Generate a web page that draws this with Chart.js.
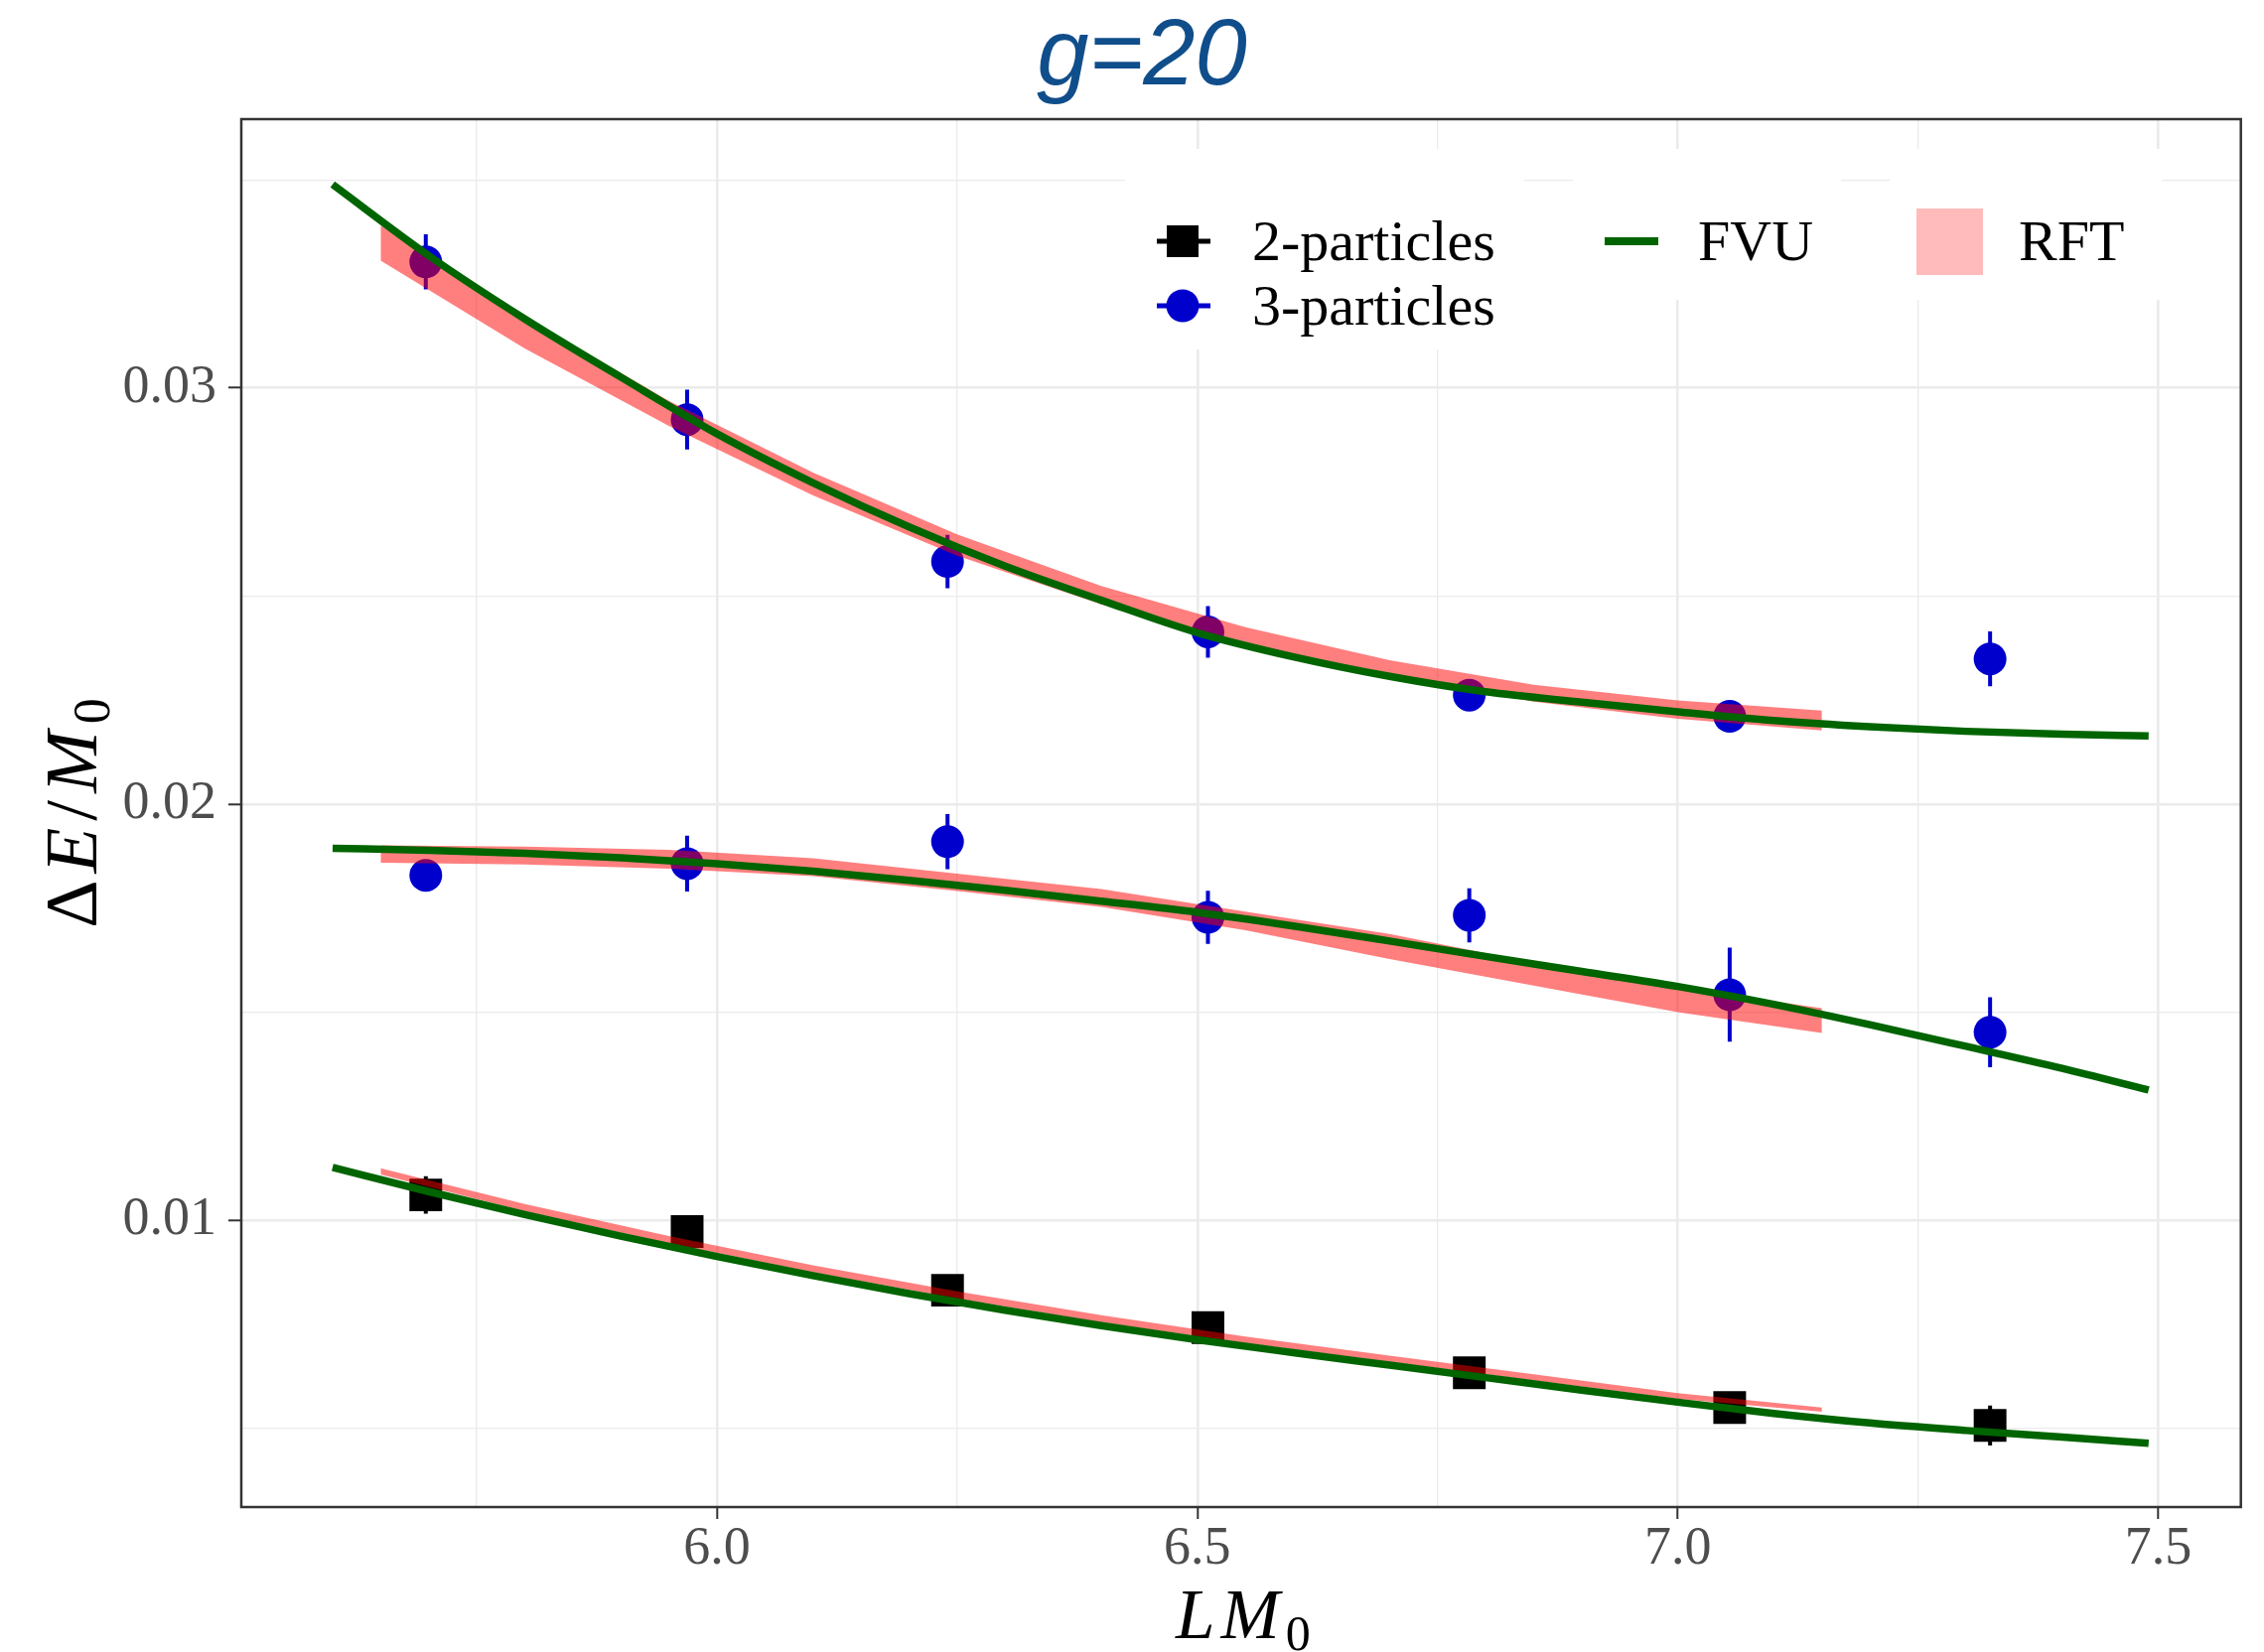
<!DOCTYPE html>
<html>
<head>
<meta charset="utf-8">
<title>g=20</title>
<script src="https://cdn.jsdelivr.net/npm/chart.js@4.4.1/dist/chart.umd.min.js"></script>
<style>
  html, body { margin: 0; padding: 0; background: #fff; }
  #wrap { width: 2280px; height: 1664px; }
</style>
</head>
<body>
<div id="wrap"><canvas id="chart" width="2280" height="1664"></canvas></div>
<script>
// L*M0 for the seven box sizes
const lm = [5.697, 5.969, 6.240, 6.511, 6.783, 7.054, 7.325];

// lattice energies with errors
const twoE = [0.01061, 0.00973, 0.00832, 0.00742, 0.006335, 0.00550, 0.00507];
const twoErr = [0.00045, 0.0003, 0.0003, 0.0003, 0.0003, 0.0003, 0.00048];
const threeUpE = [0.03303, 0.02924, 0.02583, 0.02414, 0.02262, 0.02211, 0.02349];
const threeUpErr = [0.00066, 0.00072, 0.00064, 0.00062, 0.0002, 0.0002, 0.00066];
const threeMidE = [0.01829, 0.01857, 0.01910, 0.01728, 0.01733, 0.01542, 0.01452];
const threeMidErr = [0.0002, 0.00067, 0.00066, 0.00064, 0.00065, 0.00113, 0.00084];

// FVU curves
const fvuX = [5.60, 5.70, 5.80, 5.90, 6.00, 6.10, 6.20, 6.30, 6.40, 6.50,
              6.60, 6.70, 6.80, 6.90, 7.00, 7.10, 7.20, 7.30, 7.40, 7.49];
const fvuUpper = [0.03489, 0.03318, 0.03166, 0.03026, 0.02890, 0.02772, 0.02666, 0.02572, 0.02490, 0.02412,
                  0.02354, 0.02307, 0.02270, 0.02245, 0.02222, 0.02201, 0.02186, 0.02175, 0.02168, 0.02164];
const fvuMiddle = [0.01894, 0.01889, 0.01882, 0.01871, 0.01857, 0.01839, 0.01817, 0.01793, 0.01767, 0.01740,
                   0.01707, 0.01671, 0.01634, 0.01598, 0.01562, 0.01519, 0.01470, 0.01418, 0.01365, 0.01313];
const fvuLower = [0.01127, 0.01069, 0.01014, 0.00962, 0.00913, 0.00867, 0.00824, 0.00784, 0.00747, 0.00713,
                  0.00682, 0.00652, 0.00622, 0.00592, 0.00563, 0.00536, 0.00513, 0.00495, 0.00479, 0.00464];

// RFT bands (lower / upper edge)
const rftX = [5.65, 5.80, 5.95, 6.10, 6.25, 6.40, 6.55, 6.70, 6.85, 7.00, 7.15];
const rftUpperLo = [0.03306, 0.03095, 0.02909, 0.02742, 0.02597, 0.02480, 0.02385, 0.02310, 0.02246, 0.02205, 0.02177];
const rftUpperHi = [0.03391, 0.03170, 0.02969, 0.02797, 0.02648, 0.02524, 0.02425, 0.02346, 0.02287, 0.02249, 0.02225];
const rftMiddleLo = [0.01859, 0.01855, 0.01845, 0.01827, 0.01791, 0.01753, 0.01697, 0.01628, 0.01564, 0.01500, 0.01450];
const rftMiddleHi = [0.01901, 0.01898, 0.01890, 0.01870, 0.01833, 0.01796, 0.01742, 0.01688, 0.01619, 0.01560, 0.01510];
const rftLowerLo = [0.01110, 0.01022, 0.00945, 0.00875, 0.00812, 0.00755, 0.00705, 0.00660, 0.00615, 0.00571, 0.00540];
const rftLowerHi = [0.01125, 0.01039, 0.00962, 0.00892, 0.00829, 0.00772, 0.00721, 0.00675, 0.00630, 0.00585, 0.00550];

// axes
const xTicks = [5.75, 6.0, 6.25, 6.5, 6.75, 7.0, 7.25, 7.5];
const yTicks = [0.005, 0.01, 0.015, 0.02, 0.025, 0.03, 0.035];
const xLabels = ['6.0', '6.5', '7.0', '7.5'];
const yLabels = ['0.01', '0.02', '0.03'];

const SERIF = "'Liberation Serif', 'DejaVu Serif', serif";
const GREEN = '#006400';
const BLUE = '#0000CD';
const BAND = 'rgba(255, 0, 0, 0.5)';

function pts(xs, ys) {
  return xs.map((x, i) => ({ x: x, y: ys[i] }));
}

function xMajor(v) { return xLabels.includes(v.toFixed(1)) && Math.abs(v * 2 - Math.round(v * 2)) < 1e-6; }
function yMajor(v) { return yLabels.includes(v.toFixed(2)) && Math.abs(v * 100 - Math.round(v * 100)) < 1e-6; }

function fvuSet(ys) {
  return {
    type: 'line', label: 'FVU', data: pts(fvuX, ys), order: 0,
    borderColor: GREEN, borderWidth: 7.5, pointRadius: 0, fill: false,
    cubicInterpolationMode: 'monotone'
  };
}

function bandSets(lo, hi) {
  return [
    { type: 'line', label: 'RFT', data: pts(rftX, lo), order: 1, borderWidth: 0,
      borderColor: 'rgba(0,0,0,0)', pointRadius: 0, fill: false, tension: 0 },
    { type: 'line', label: 'RFT', data: pts(rftX, hi), order: 1, borderWidth: 0,
      borderColor: 'rgba(0,0,0,0)', backgroundColor: BAND, pointRadius: 0, fill: '-1', tension: 0 }
  ];
}

const pointSeries = [
  { xs: lm, ys: twoE, err: twoErr, color: '#000000' },
  { xs: lm, ys: threeUpE, err: threeUpErr, color: BLUE },
  { xs: lm, ys: threeMidE, err: threeMidErr, color: BLUE }
];

// vertical error bars, under the markers and bands
const errorBars = {
  id: 'errorBars',
  beforeDatasetsDraw(chart) {
    const { ctx, chartArea, scales } = chart;
    ctx.save();
    ctx.beginPath();
    ctx.rect(chartArea.left, chartArea.top, chartArea.width, chartArea.height);
    ctx.clip();
    ctx.lineWidth = 4;
    pointSeries.forEach(s => {
      ctx.strokeStyle = s.color;
      s.xs.forEach((x, i) => {
        const px = scales.x.getPixelForValue(x);
        ctx.beginPath();
        ctx.moveTo(px, scales.y.getPixelForValue(s.ys[i] - s.err[i]));
        ctx.lineTo(px, scales.y.getPixelForValue(s.ys[i] + s.err[i]));
        ctx.stroke();
      });
    });
    ctx.restore();
  }
};

// draws [text, font, dy] pieces one after another with a gap, centred on 0
function drawPieces(ctx, parts, gap) {
  let total = 0;
  parts.forEach(p => { ctx.font = p[1]; total += ctx.measureText(p[0]).width; });
  total += gap * (parts.length - 1);
  let px = -total / 2;
  parts.forEach(p => {
    ctx.font = p[1];
    ctx.fillText(p[0], px, p[2]);
    px += ctx.measureText(p[0]).width + gap;
  });
}

// panel border, legend, title and axis titles
const decorations = {
  id: 'decorations',
  afterDraw(chart) {
    const { ctx, chartArea } = chart;
    ctx.save();

    // legend boxes
    ctx.fillStyle = '#ffffff';
    ctx.fillRect(1133, 150, 402, 202);
    ctx.fillRect(1584, 150, 270, 152);
    ctx.fillRect(1903, 150, 274, 152);

    // 2-particles key
    ctx.fillStyle = '#000';
    ctx.fillRect(1165, 240.5, 54, 5);
    ctx.fillRect(1175, 227, 32, 32);
    // 3-particles key
    ctx.fillStyle = BLUE;
    ctx.fillRect(1165, 305.5, 54, 5);
    ctx.beginPath();
    ctx.arc(1191, 308, 16.5, 0, Math.PI * 2);
    ctx.fill();
    // FVU key
    ctx.fillStyle = GREEN;
    ctx.fillRect(1616, 239, 54, 8);
    // RFT key
    ctx.fillStyle = '#FFBBBB';
    ctx.fillRect(1930, 210, 67, 67);

    ctx.fillStyle = '#000';
    ctx.font = '58px ' + SERIF;
    ctx.textAlign = 'left';
    ctx.textBaseline = 'alphabetic';
    ctx.fillText('2-particles', 1261, 262);
    ctx.fillText('3-particles', 1261, 327);
    ctx.fillText('FVU', 1710, 262);
    ctx.fillText('RFT', 2033, 262);

    // panel border
    ctx.strokeStyle = '#333333';
    ctx.lineWidth = 2.5;
    ctx.strokeRect(chartArea.left, chartArea.top, chartArea.width, chartArea.height);

    // title
    ctx.fillStyle = '#104E8B';
    ctx.font = "italic 94px 'Liberation Sans', Arial, sans-serif";
    ctx.textAlign = 'center';
    ctx.fillText('g=20', 1150, 85);

    ctx.fillStyle = '#000';
    ctx.textAlign = 'left';
    const cx = (chartArea.left + chartArea.right) / 2;
    const cy = (chartArea.top + chartArea.bottom) / 2;

    // x title: L M_0
    ctx.save();
    ctx.translate(cx + 2, 1650);
    drawPieces(ctx, [
      ['L', 'italic 71px ' + SERIF, 0],
      ['M', 'italic 71px ' + SERIF, 0],
      ['0', '50px ' + SERIF, 12]
    ], 6);
    ctx.restore();

    // y title: ΔE/M_0, rotated
    ctx.save();
    ctx.translate(97, cy);
    ctx.rotate(-Math.PI / 2);
    drawPieces(ctx, [
      ['Δ', '75px ' + SERIF, 0],
      ['E', 'italic 75px ' + SERIF, 0],
      ['/', '75px ' + SERIF, 0],
      ['M', 'italic 75px ' + SERIF, 0],
      ['0', '52px ' + SERIF, 13]
    ], 7);
    ctx.restore();

    ctx.restore();
  }
};

const datasets = [
  fvuSet(fvuUpper),
  fvuSet(fvuMiddle),
  fvuSet(fvuLower),
  ...bandSets(rftUpperLo, rftUpperHi),
  ...bandSets(rftMiddleLo, rftMiddleHi),
  ...bandSets(rftLowerLo, rftLowerHi),
  {
    type: 'scatter', label: '2-particles', data: pts(lm, twoE), order: 2,
    pointStyle: 'rect', pointRadius: 23.3, pointBorderWidth: 0, backgroundColor: '#000000'
  },
  {
    type: 'scatter', label: '3-particles', data: pts(lm, threeUpE).concat(pts(lm, threeMidE)), order: 2,
    pointStyle: 'circle', pointRadius: 16.5, pointBorderWidth: 0, backgroundColor: BLUE
  }
];

const tickFont = { family: SERIF, size: 54, lineHeight: 1 };

new Chart(document.getElementById('chart'), {
  type: 'scatter',
  data: { datasets: datasets },
  plugins: [errorBars, decorations],
  options: {
    responsive: false,
    animation: false,
    events: [],
    devicePixelRatio: 1,
    layout: { padding: { top: 120, right: 23, left: 0, bottom: 0 } },
    plugins: {
      legend: { display: false },
      title: { display: false },
      tooltip: { enabled: false }
    },
    scales: {
      x: {
        type: 'linear',
        min: 5.505,
        max: 7.586,
        afterBuildTicks: s => { s.ticks = xTicks.map(v => ({ value: v })); },
        afterFit: s => { s.height = 146; },
        border: { display: false },
        grid: {
          color: '#EBEBEB',
          lineWidth: c => (xMajor(c.tick.value) ? 2.6 : 1.3),
          tickLength: 12,
          tickWidth: 2,
          tickColor: c => (xMajor(c.tick.value) ? '#333333' : 'rgba(0,0,0,0)')
        },
        ticks: {
          autoSkip: false,
          maxRotation: 0,
          padding: 4,
          color: '#4D4D4D',
          font: tickFont,
          callback: v => (xMajor(v) ? v.toFixed(1) : '')
        }
      },
      y: {
        type: 'linear',
        min: 0.00311,
        max: 0.03646,
        afterBuildTicks: s => { s.ticks = yTicks.map(v => ({ value: v })); },
        afterFit: s => { s.width = 243; },
        border: { display: false },
        grid: {
          color: '#EBEBEB',
          lineWidth: c => (yMajor(c.tick.value) ? 2.6 : 1.3),
          tickLength: 13,
          tickWidth: 2,
          tickColor: c => (yMajor(c.tick.value) ? '#333333' : 'rgba(0,0,0,0)')
        },
        ticks: {
          autoSkip: false,
          padding: 12,
          color: '#4D4D4D',
          font: tickFont,
          callback: v => (yMajor(v) ? v.toFixed(2) : '')
        }
      }
    }
  }
});
</script>
</body>
</html>
